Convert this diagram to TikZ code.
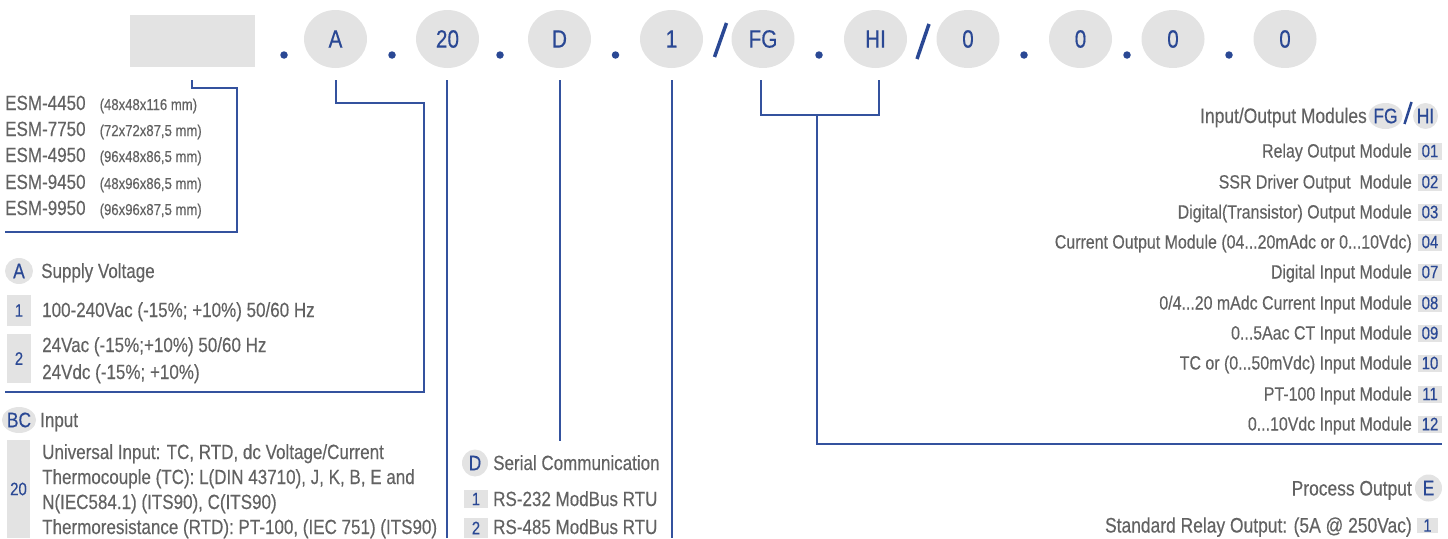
\documentclass[tikz,border=0pt]{standalone}
\usepackage{fontspec}
\setmainfont[FakeStretch=0.83,FakeBold=0.35]{Liberation Sans}
\usetikzlibrary{shapes.geometric}
\definecolor{bl}{RGB}{42,72,148}
\definecolor{ln}{RGB}{52,82,158}
\definecolor{gr}{RGB}{227,227,227}
\definecolor{tx}{RGB}{98,98,98}
\begin{document}
\begin{tikzpicture}[x=1pt,y=-1pt,
 code/.style={ellipse,fill=gr,minimum width=63,minimum height=58,inner sep=0,text=bl,font=\fontsize{25}{25}\selectfont},
 sepdot/.style={circle,fill=bl,minimum size=7.5,inner sep=0},
 conn/.style={draw=ln,line width=2},
 slashline/.style={draw=bl,line width=3.5},
 lt/.style={anchor=base west,inner sep=0,text=tx,font=\fontsize{20.5}{21}\selectfont},
 lts/.style={anchor=base west,inner sep=0,text=tx,font=\fontsize{15.8}{16}\selectfont},
 rt/.style={anchor=base east,inner sep=0,text=tx,font=\fontsize{19.2}{20}\selectfont},
 rth/.style={anchor=base east,inner sep=0,text=tx,font=\fontsize{21}{22}\selectfont},
 tag/.style={ellipse,fill=gr,inner sep=0,minimum width=28,minimum height=26,text=bl,font=\fontsize{21}{21}\selectfont},
 numbox/.style={rectangle,fill=gr,inner sep=0,text=bl,font=\fontsize{18}{18}\selectfont},
 mbox/.style={numbox,minimum width=24,minimum height=17},
]
\useasboundingbox (0,0) rectangle (1448,538);

% ---------- top code row ----------
\node[rectangle,fill=gr,minimum width=125,minimum height=52,inner sep=0] (model) at (192.5,41) {};
\node[sepdot] (d1) at (284,55) {};
\node[code] (cA) at (335.5,39) {A};
\node[sepdot] (d2) at (392,55) {};
\node[code] (c20) at (447.5,39) {20};
\node[sepdot] (d3) at (500,55) {};
\node[code] (cD) at (559.5,39) {D};
\node[sepdot] (d4) at (615.5,55) {};
\node[code] (c1) at (671.5,39) {1};
\draw[slashline] (714.5,57) -- (726.5,23);
\node[code] (cFG) at (763,39) {FG};
\node[sepdot] (d5) at (819,55) {};
\node[code] (cHI) at (875.5,39) {HI};
\draw[slashline] (917,59) -- (929,24);
\node[code] (z1) at (968,39) {0};
\node[sepdot] (d6) at (1024,55) {};
\node[code] (z2) at (1080.5,39) {0};
\node[sepdot] (d7) at (1127,55) {};
\node[code] (z3) at (1173,39) {0};
\node[sepdot] (d8) at (1229,55) {};
\node[code] (z4) at (1285,39) {0};

% ---------- connectors ----------
\coordinate (m0) at (192,80);
\coordinate (mE) at (5,232);
\draw[conn] (m0) |- (237,88) -- (237,232) -- (mE);
\coordinate (a0) at (336,80);
\coordinate (aE) at (5,392);
\draw[conn] (a0) |- (424,103) -- (424,392) -- (aE);
\coordinate (t0) at (447,80);
\coordinate (tEnd) at (447,538);
\draw[conn] (t0) -- (tEnd);
\coordinate (dd0) at (559.5,80);
\coordinate (ddE) at (559.5,441);
\draw[conn] (dd0) -- (ddE);
\coordinate (o0) at (672,80);
\coordinate (oE) at (672,538);
\draw[conn] (o0) -- (oE);
\coordinate (fg0) at (761,80);
\coordinate (hi0) at (879,80);
\coordinate (fgm) at (817,115);
\coordinate (fgE) at (1442,444);
\draw[conn] (fg0) -- (761,115) -- (879,115) -- (hi0);
\draw[conn] (fgm) |- (fgE);

% ---------- models ----------
\node[lt] (e1) at (5,110) {ESM-4450};
\node[lts] (s1) at (99.5,110) {(48x48x116 mm)};
\node[lt] (e2) at (5,136) {ESM-7750};
\node[lts] (s2) at (99.5,136) {(72x72x87,5 mm)};
\node[lt] (e3) at (5,162) {ESM-4950};
\node[lts] (s3) at (99.5,162) {(96x48x86,5 mm)};
\node[lt] (e4) at (5,189) {ESM-9450};
\node[lts] (s4) at (99.5,189) {(48x96x86,5 mm)};
\node[lt] (e5) at (5,215) {ESM-9950};
\node[lts] (s5) at (99.5,215) {(96x96x87,5 mm)};

% ---------- supply voltage ----------
\node[tag] (tA) at (19,271) {A};
\node[lt] (sv) at (41,278) {Supply Voltage};
\node[numbox,minimum width=24,minimum height=31] (b1) at (19,310.5) {1};
\node[lt] (sv1) at (42,317) {100-240Vac (-15\%; +10\%) 50/60 Hz};
\node[numbox,minimum width=24,minimum height=49] (b2) at (19,358.5) {2};
\node[lt] (sv2a) at (42,352) {24Vac (-15\%;+10\%) 50/60 Hz};
\node[lt] (sv2b) at (42,379) {24Vdc (-15\%; +10\%)};

% ---------- input ----------
\node[tag] (tBC) at (19,420) {BC};
\node[lt] (inp) at (40,427) {Input};
\node[numbox,minimum width=23,minimum height=98] (b20) at (18.5,489) {20};
\node[lt] (in1) at (42,459) {Universal Input: TC, RTD, dc Voltage/Current};
\node[lt] (in2) at (42,484) {Thermocouple (TC): L(DIN 43710), J, K, B, E and};
\node[lt] (in3) at (42,509) {N(IEC584.1) (ITS90), C(ITS90)};
\node[lt] (in4) at (42,534) {Thermoresistance (RTD): PT-100, (IEC 751) (ITS90)};

% ---------- serial ----------
\node[tag,minimum width=26,minimum height=27] (tD) at (475,463) {D};
\node[lt] (ser) at (493,470) {Serial Communication};
\node[numbox,minimum width=24,minimum height=18] (sb1) at (476,499) {1};
\node[lt] (ser1) at (493,506) {RS-232 ModBus RTU};
\node[numbox,minimum width=24,minimum height=20] (sb2) at (476,528) {2};
\node[lt] (ser2) at (493,534) {RS-485 ModBus RTU};

% ---------- I/O modules ----------
\node[rth] (io) at (1367,123) {Input/Output Modules};
\node[tag,minimum width=25,minimum height=26] (tFG) at (1385.5,116) {FG};
\draw[draw=bl,line width=2.5] (1404.5,124) -- (1411.5,102);
\node[tag,minimum width=25,minimum height=26] (tHI) at (1425.5,116) {HI};

\node[mbox] (m01) at (1430,151) {01};
\node[rt] (mt01) at (1412,157.5) {Relay Output Module};
\node[mbox] (m02) at (1430,182) {02};
\node[rt] (mt02) at (1412,188.5) {SSR Driver Output\ \ Module};
\node[mbox] (m03) at (1430,212) {03};
\node[rt] (mt03) at (1412,218.5) {Digital(Transistor) Output Module};
\node[mbox] (m04) at (1430,242) {04};
\node[rt] (mt04) at (1412,248.5) {Current Output Module (04...20mAdc or 0...10Vdc)};
\node[mbox] (m07) at (1430,272) {07};
\node[rt] (mt07) at (1412,278.5) {Digital Input Module};
\node[mbox] (m08) at (1430,303) {08};
\node[rt] (mt08) at (1412,309.5) {0/4...20 mAdc Current Input Module};
\node[mbox] (m09) at (1430,333) {09};
\node[rt] (mt09) at (1412,339.5) {0...5Aac CT Input Module};
\node[mbox] (m10) at (1430,363) {10};
\node[rt] (mt10) at (1412,369.5) {TC or (0...50mVdc) Input Module};
\node[mbox] (m11) at (1430,394) {11};
\node[rt] (mt11) at (1412,400.5) {PT-100 Input Module};
\node[mbox] (m12) at (1430,424) {12};
\node[rt] (mt12) at (1412,430.5) {0...10Vdc Input Module};

% ---------- process output ----------
\node[rth] (po) at (1412,495.5) {Process Output};
\node[tag,minimum width=27,minimum height=27] (tE) at (1428.5,488) {E};
\node[numbox,minimum width=21,minimum height=15] (pb1) at (1427.5,525.5) {1};
\node[rth] (po1) at (1412,532.5) {Standard Relay Output: (5A @ 250Vac)};
\end{tikzpicture}
\end{document}
